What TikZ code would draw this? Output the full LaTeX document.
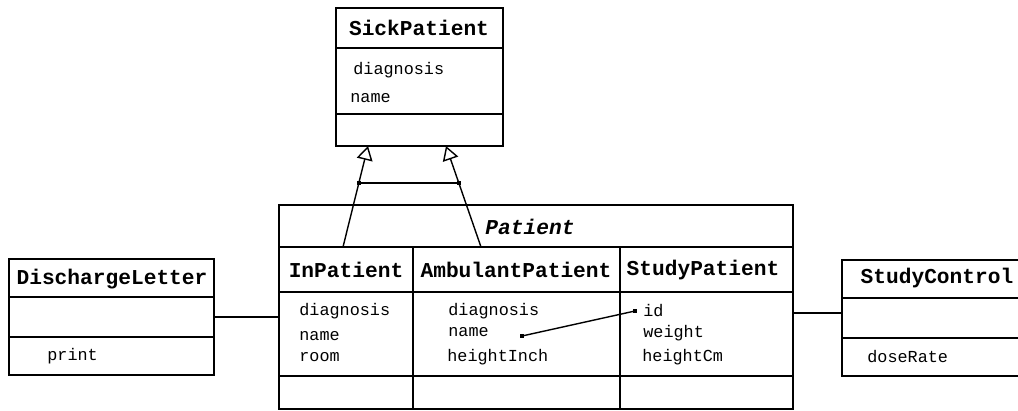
\documentclass[tikz,border=0pt]{standalone}
\usepackage{fontspec}
\setmonofont{Liberation Mono}
\usepackage{tikz}
\usetikzlibrary{arrows.meta,fit,calc}

\tikzset{
  classbox/.style={draw, line width=1.1pt, inner sep=0pt},
  sepline/.style={line width=0.7pt},
  ctitle/.style={inner sep=0pt, font=\fontsize{10.6}{12}\selectfont\ttfamily\bfseries},
  ctitleit/.style={inner sep=0pt, font=\fontsize{10.6}{12}\selectfont\ttfamily\bfseries\itshape},
  attr/.style={anchor=west, inner sep=0pt, font=\fontsize{8.4}{10}\selectfont\ttfamily},
  gen/.style={line width=0.7pt, -{Triangle[open, length=7pt, width=8pt]}},
  assoc/.style={line width=0.7pt},
  dot/.style={fill, inner sep=0pt, minimum size=2pt}
}

\begin{document}
\begin{tikzpicture}[x=0.5pt, y=-0.5pt]
		\useasboundingbox (0,0) rectangle (1018,411);

		% class boxes
		\node[classbox, fit={(336,8) (503,146)}] (sick) {};
		\node[classbox, fit={(279,205) (793,409)}] (pat) {};
		\node[classbox, fit={(9,259) (214,375)}] (dl) {};
		\node[classbox, fit={(842,260) (1030,376)}] (sc) {};

		% compartments
		\draw[sepline] (336,48) -- (503,48);
		\draw[sepline] (336,114) -- (503,114);
		\draw[sepline] (9,297) -- (214,297);
		\draw[sepline] (9,337) -- (214,337);
		\draw[sepline] (842,298) -- (1030,298);
		\draw[sepline] (842,338) -- (1030,338);
		\draw[line width=1.1pt] (279,247) -- (793,247);
		\draw[sepline] (279,292) -- (793,292);
		\draw[sepline] (279,376) -- (793,376);
		\draw[line width=1.1pt] (413,247) -- (413,409);
		\draw[line width=1.1pt] (620,247) -- (620,409);

		% titles
		\node[ctitle] (sickname) at (419,28) {SickPatient};
		\node[ctitleit] (patname) at (530,227) {Patient};
		\node[ctitle] (inname) at (346,270) {InPatient};
		\node[ctitle] (ambname) at (516,270) {AmbulantPatient};
		\node[ctitle] (studyname) at (703,270) {StudyPatient};
		\node[ctitle] (dlname) at (112,279) {DischargeLetter};
		\node[ctitle] (scname) at (937,278) {StudyControl};

		% attributes
		\node[attr] (sickdiag) at (353,70) {diagnosis};
		\node[attr] (sickname2) at (350,98) {name};
		\node[attr] (indiag) at (299,311) {diagnosis};
		\node[attr] (inname2) at (299,336) {name};
		\node[attr] (inroom) at (299,357) {room};
		\node[attr] (ambdiag) at (448,311) {diagnosis};
		\node[attr] (ambname2) at (448,332) {name};
		\node[attr] (ambheight) at (447,357) {heightInch};
		\node[attr] (studyid) at (643,311) {id};
		\node[attr] (studyweight) at (643,333) {weight};
		\node[attr] (studyheight) at (642,357) {heightCm};
		\node[attr] (dlprint) at (47,356) {print};
		\node[attr] (scdose) at (867,357) {doseRate};

		% generalization
		\coordinate (inhead) at (343,247);
		\coordinate (ambhead) at (481,247);
		\coordinate (tipin) at (368,146);
		\coordinate (tipamb) at (446,146);
		\draw[gen] (inhead) -- (tipin);
		\draw[gen] (ambhead) -- (tipamb);
		\coordinate (jin) at ($(inhead)!0.634!(tipin)$);
		\coordinate (jamb) at ($(ambhead)!0.634!(tipamb)$);
		\draw[assoc] (jin) -- (jamb);
		\node[dot] (jindot) at (jin) {};
		\node[dot] (jambdot) at (jamb) {};

		% associations
		\draw[assoc] (dl.east) -- (pat.west |- dl.east);
		\draw[assoc] ([yshift=2.5pt]pat.east |- sc.west) -- ([yshift=2.5pt]sc.west);

		% attribute link
		\coordinate (linkname) at (522,336);
		\coordinate (linkid) at (635,311);
		\draw[assoc] (linkname) -- (linkid);
		\node[dot] (linknamedot) at (linkname) {};
		\node[dot] (linkiddot) at (linkid) {};
\end{tikzpicture}
\end{document}
